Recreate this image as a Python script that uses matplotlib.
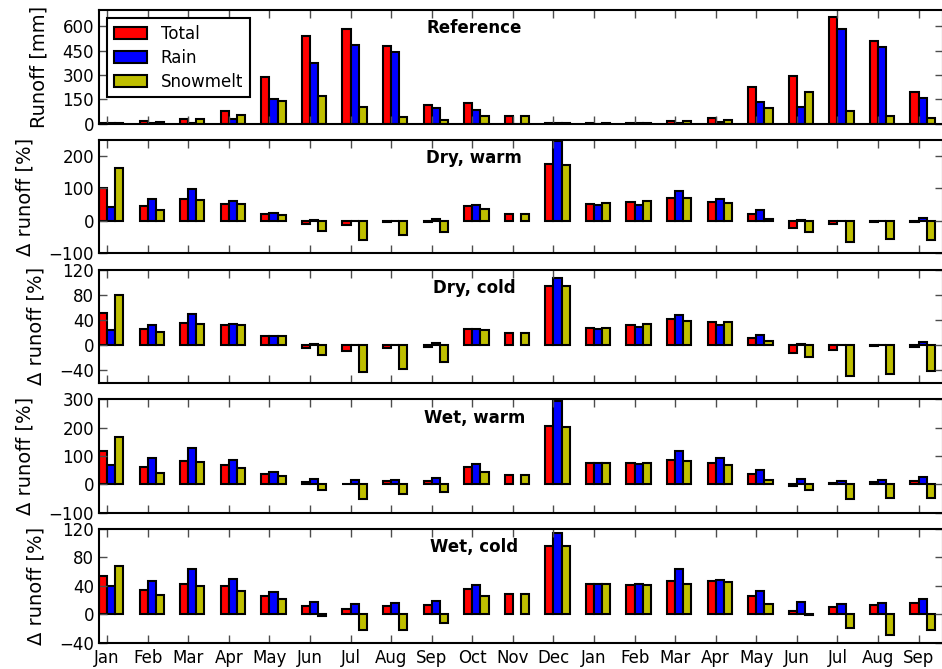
import numpy as np
import matplotlib
matplotlib.use("Agg")
import matplotlib.pyplot as plt

months = ["Jan", "Feb", "Mar", "Apr", "May", "Jun", "Jul", "Aug", "Sep", "Oct",
          "Nov", "Dec", "Jan", "Feb", "Mar", "Apr", "May", "Jun", "Jul", "Aug", "Sep"]
nan = np.nan

# reference runoff [mm]
ref_total = [3, 14, 30, 80, 288, 537, 586, 480, 114, 127, 47, 3, 2, 6, 17, 35, 224, 296, 657, 512, 194]
ref_rain = [1, 6, 4, 25, 151, 371, 486, 439, 94, 86, 0, 1, 0, 3, 4, 12, 131, 102, 580, 469, 159]
ref_snow = [2, 10, 28, 51, 139, 167, 104, 39, 22, 45, 47, 1, 1, 5, 14, 20, 94, 196, 78, 45, 33]

# change in runoff [%] per scenario
dw_total = [101, 45, 68, 53, 20, -9, -13, -4, -4, 45, 22, 175, 53, 59, 72, 58, 22, -22, -10, -4, -4]
dw_rain = [42, 66, 97, 61, 24, 4, 1, 1, 5, 49, nan, 245, 49, 49, 91, 67, 32, 4, 0, -1, 8]
dw_snow = [162, 32, 64, 51, 19, -30, -60, -45, -35, 37, 22, 171, 54, 62, 69, 54, 7, -34, -66, -57, -58]

dc_total = [51, 25, 35, 32, 15, -5, -10, -4, -3, 25, 19, 94, 27, 32, 41, 36, 12, -12, -8, -2, -3]
dc_rain = [24, 32, 49, 34, 15, 2, 0, 0, 3, 26, nan, 107, 25, 29, 48, 32, 16, 2, 0, 0, 5]
dc_snow = [79, 21, 33, 32, 15, -16, -43, -38, -27, 24, 19, 94, 28, 33, 39, 37, 7, -19, -49, -46, -41]

ww_total = [118, 62, 84, 68, 35, 7, 3, 11, 13, 61, 34, 207, 74, 76, 87, 76, 38, -5, 4, 9, 13]
ww_rain = [67, 92, 128, 86, 44, 20, 14, 15, 22, 71, nan, 294, 74, 73, 119, 92, 51, 20, 13, 15, 27]
ww_snow = [168, 41, 78, 59, 29, -20, -52, -35, -26, 42, 34, 202, 75, 76, 81, 69, 15, -20, -53, -49, -49]

wc_total = [54, 34, 43, 39, 26, 12, 7, 12, 13, 35, 28, 96, 42, 41, 46, 46, 25, 5, 10, 13, 15]
wc_rain = [40, 47, 63, 50, 31, 17, 14, 15, 19, 41, nan, 115, 42, 43, 63, 48, 32, 17, 14, 16, 22]
wc_snow = [68, 27, 40, 32, 21, -2, -23, -23, -13, 26, 28, 96, 42, 41, 43, 45, 14, -1, -20, -29, -23]

panels = [
    ("Reference", ref_total, ref_rain, ref_snow, (0, 700), [0, 150, 300, 450, 600], "Runoff [mm]"),
    ("Dry, warm", dw_total, dw_rain, dw_snow, (-100, 250), [-100, 0, 100, 200], "Δ runoff [%]"),
    ("Dry, cold", dc_total, dc_rain, dc_snow, (-60, 120), [-40, 0, 40, 80, 120], "Δ runoff [%]"),
    ("Wet, warm", ww_total, ww_rain, ww_snow, (-100, 300), [-100, 0, 100, 200, 300], "Δ runoff [%]"),
    ("Wet, cold", wc_total, wc_rain, wc_snow, (-40, 120), [-40, 0, 40, 80, 120], "Δ runoff [%]"),
]

plt.rcParams["font.family"] = "DejaVu Sans"
fig, axes = plt.subplots(5, 1, figsize=(9.42, 6.69), dpi=100, sharex=True)
fig.subplots_adjust(left=0.1051, right=1.001, top=0.985, bottom=0.0396, hspace=0.143)

x = np.arange(len(months))
w = 0.2
for ax, (name, total, rain, snow, ylim, yticks, ylabel) in zip(axes, panels):
    kw = dict(width=w, align="edge", edgecolor="k", linewidth=1.5)
    ax.bar(x - w, total, color="r", label="Total", **kw)
    ax.bar(x, rain, color="b", label="Rain", **kw)
    ax.bar(x + w, snow, color=(0.75, 0.75, 0), label="Snowmelt", **kw)
    ax.set_ylim(*ylim)
    ax.set_yticks(yticks)
    ax.set_xlim(-0.2, 20.6)
    ax.set_ylabel(ylabel, fontsize=14, labelpad=10)
    ax.text(9.05, 0.795, name, transform=ax.get_xaxis_transform(), ha="center",
            va="baseline", fontsize=12, fontweight="bold")
    ax.tick_params(direction="in", top=True, right=True, length=6, width=1,
                   labelsize=12, color="0.3")
    ax.tick_params(axis="x", pad=5)
    for sp in ax.spines.values():
        sp.set_linewidth(1.5)

axes[0].legend(loc="upper left", fontsize=12, fancybox=False, edgecolor="k",
               framealpha=1, borderaxespad=0.5, labelspacing=0.35)
axes[0].get_legend().get_frame().set_linewidth(1.5)

axes[-1].set_xticks(x)
axes[-1].set_xticklabels(months)

fig.savefig("out.png", dpi=100, facecolor="white")
